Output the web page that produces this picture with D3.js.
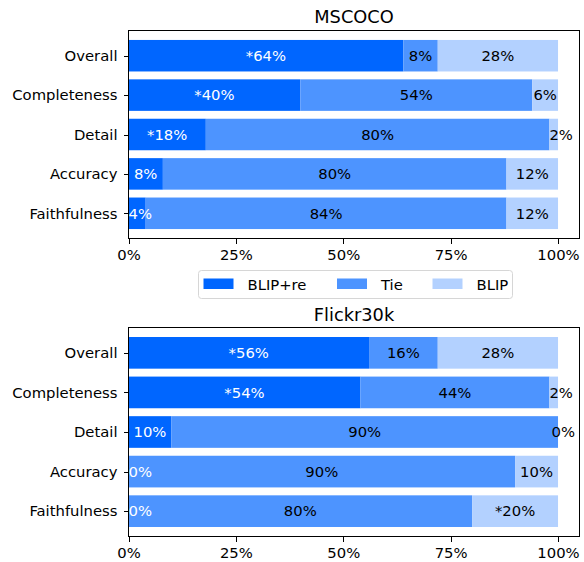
<!DOCTYPE html>
<html>
<head>
<meta charset="utf-8">
<script src="https://d3js.org/d3.v7.min.js"></script>
<style>
    body { margin: 0; background: #ffffff; }
    #chart .font { font-family: "DejaVu Sans", sans-serif; }
    #chart .title { font-size: 17.8px; fill: #000000; }
    #chart .axis text { font-family: "DejaVu Sans", sans-serif; font-size: 14.8px; fill: #000000; }
    #chart .axis line { stroke: #000000; stroke-width: 1; shape-rendering: crispEdges; }
    #chart .axis path { display: none; }
    #chart .frame { fill: none; stroke: #000000; stroke-width: 1; shape-rendering: crispEdges; }
    #chart .value { font-size: 14.8px; }
    #chart .legend-text { font-size: 14.8px; fill: #000000; }
</style>
</head>
<body>
<script>
    const CATEGORIES = ["Overall", "Completeness", "Detail", "Accuracy", "Faithfulness"];
    const SERIES = ["BLIP+re", "Tie", "BLIP"];
    const COLORS = ["#0066ff", "#4d94ff", "#b3d1ff"];
    const LABEL_COLORS = ["#ffffff", "#000000", "#000000"];
    const X_TICKS = [0, 0.25, 0.5, 0.75, 1];

    // MSCOCO, percentages
    const COCO_BLIPRE = [64, 40, 18, 8, 4];
    const COCO_TIE = [8, 54, 80, 80, 84];
    const COCO_BLIP = [28, 6, 2, 12, 12];
    // significance markers (*) per series
    const COCO_SIG_BLIPRE = [true, true, true, false, false];
    const COCO_SIG_TIE = [false, false, false, false, false];
    const COCO_SIG_BLIP = [false, false, false, false, false];

    // Flickr30k, percentages
    const FLICKR_BLIPRE = [56, 54, 10, 0, 0];
    const FLICKR_TIE = [16, 44, 90, 90, 80];
    const FLICKR_BLIP = [28, 2, 0, 10, 20];
    const FLICKR_SIG_BLIPRE = [true, true, false, false, false];
    const FLICKR_SIG_TIE = [false, false, false, false, false];
    const FLICKR_SIG_BLIP = [false, false, false, false, true];

    const WIDTH = 584;
    const HEIGHT = 562;
    const AX_LEFT = 128.5;
    const AX_RIGHT = 579.5;

    const panels = [
        {title: "MSCOCO", top: 30.5, bottom: 238.5, titleY: 22.5,
         values: [COCO_BLIPRE, COCO_TIE, COCO_BLIP],
         sig: [COCO_SIG_BLIPRE, COCO_SIG_TIE, COCO_SIG_BLIP]},
        {title: "Flickr30k", top: 327.5, bottom: 536.5, titleY: 321,
         values: [FLICKR_BLIPRE, FLICKR_TIE, FLICKR_BLIP],
         sig: [FLICKR_SIG_BLIPRE, FLICKR_SIG_TIE, FLICKR_SIG_BLIP]}
    ];

    var svg = d3.select("body")
        .append("svg")
        .attr("id", "chart")
        .attr("width", WIDTH)
        .attr("height", HEIGHT);

    var xScale = d3.scaleLinear()
        .domain([0, 1.05])
        .range([AX_LEFT, AX_RIGHT]);

    panels.forEach(function(p) {
        var yScale = d3.scaleLinear()
            .domain([-0.64, CATEGORIES.length - 1 + 0.64])
            .range([p.top, p.bottom]);
        var barH = yScale(0.8) - yScale(0);

        svg.append("text")
            .attr("x", (AX_LEFT + AX_RIGHT) / 2)
            .attr("y", p.titleY)
            .attr("text-anchor", "middle")
            .classed("title font", true)
            .text(p.title);

        // stacked segments
        var segments = [];
        CATEGORIES.forEach(function(cat, i) {
            var acc = 0;
            SERIES.forEach(function(s, k) {
                var v = p.values[k][i] / 100;
                segments.push({cat: i, series: k, start: acc, end: acc + v,
                    label: (p.sig[k][i] ? "*" : "") + p.values[k][i] + "%"});
                acc += v;
            });
        });

        var g = svg.append("g");
        g.selectAll("rect")
            .data(segments)
            .enter()
            .append("rect")
            .attr("x", function(d) { return xScale(d.start); })
            .attr("width", function(d) { return xScale(d.end) - xScale(d.start); })
            .attr("y", function(d) { return yScale(d.cat) - barH / 2; })
            .attr("height", barH)
            .attr("fill", function(d) { return COLORS[d.series]; });

        var labels = g.selectAll("text.value")
            .data(segments)
            .enter()
            .append("text")
            .classed("value font", true)
            .attr("y", function(d) { return yScale(d.cat); })
            .attr("dy", "0.36em")
            .attr("fill", function(d) { return LABEL_COLORS[d.series]; })
            .text(function(d) { return d.label; });
        labels.each(function(d) {
            var t = d3.select(this);
            var w = this.getComputedTextLength();
            var segW = xScale(d.end) - xScale(d.start);
            if (w > segW) {
                t.attr("text-anchor", "start")
                    .attr("x", Math.min(xScale(d.start), xScale(0.985)));
            } else {
                t.attr("text-anchor", "middle")
                    .attr("x", (xScale(d.start) + xScale(d.end)) / 2);
            }
        });

        var yAxis = d3.axisLeft(yScale)
            .tickValues(d3.range(CATEGORIES.length))
            .tickFormat(function(i) { return CATEGORIES[i]; })
            .tickSize(5)
            .tickPadding(6);
        svg.append("g")
            .classed("axis", true)
            .attr("transform", "translate(" + AX_LEFT + ",0)")
            .call(yAxis);

        var xAxis = d3.axisBottom(xScale)
            .tickValues(X_TICKS)
            .tickFormat(d3.format(".0%"))
            .tickSize(5)
            .tickPadding(6);
        svg.append("g")
            .classed("axis", true)
            .attr("transform", "translate(0," + p.bottom + ")")
            .call(xAxis);

        svg.append("rect")
            .classed("frame", true)
            .attr("x", AX_LEFT)
            .attr("y", p.top)
            .attr("width", AX_RIGHT - AX_LEFT)
            .attr("height", p.bottom - p.top);
    });

    // legend
    const LEGEND_BOX = {x: 198.5, y: 270.5, w: 314, h: 28};
    const LEGEND_ITEM_X = [203.5, 337, 432.5];
    var legend = svg.append("g");
    legend.append("rect")
        .attr("x", LEGEND_BOX.x)
        .attr("y", LEGEND_BOX.y)
        .attr("width", LEGEND_BOX.w)
        .attr("height", LEGEND_BOX.h)
        .attr("rx", 3)
        .attr("fill", "#ffffff")
        .attr("stroke", "#d6d6d6")
        .attr("stroke-width", 1);
    var items = legend.selectAll("g.item")
        .data(SERIES)
        .enter()
        .append("g")
        .attr("transform", function(d, i) { return "translate(" + LEGEND_ITEM_X[i] + ",0)"; });
    items.append("rect")
        .attr("x", 0)
        .attr("y", 278.5)
        .attr("width", 30)
        .attr("height", 10.5)
        .attr("fill", function(d, i) { return COLORS[i]; });
    items.append("text")
        .classed("legend-text font", true)
        .attr("x", 44)
        .attr("y", 290)
        .text(function(d) { return d; });
</script>
</body>
</html>
